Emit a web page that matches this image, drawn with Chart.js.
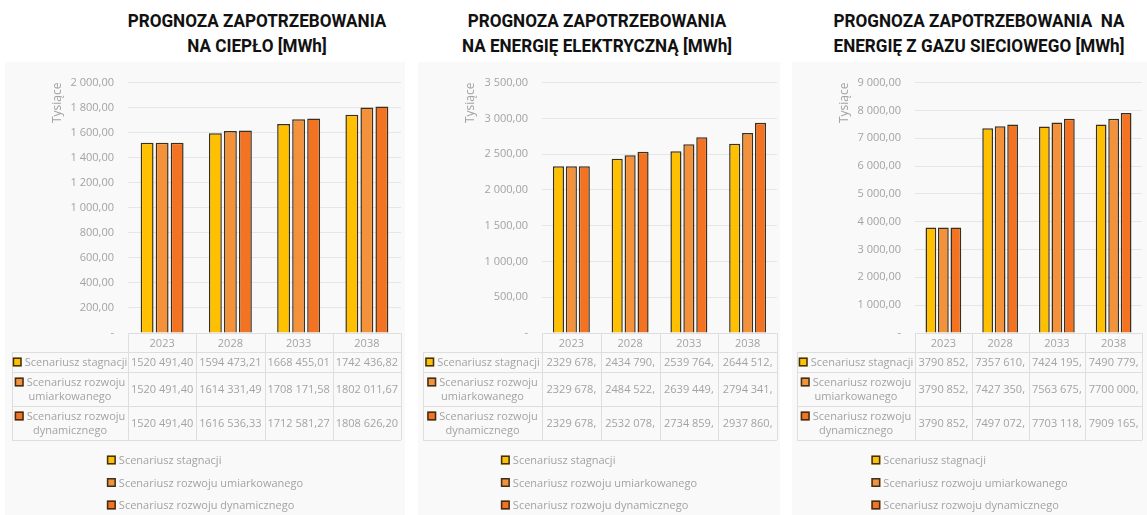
<!DOCTYPE html>
<html lang="pl">
<head>
<meta charset="UTF-8">
<title>Prognoza zapotrzebowania</title>
<script src="https://cdn.jsdelivr.net/npm/chart.js"></script>
<style>
  body { margin: 0; width: 1147px; height: 515px; overflow: hidden; background: #fff; position: relative; font-family: "Open Sans", sans-serif; }
  .title { position: absolute; top: 8px; width: 400px; text-align: center; color: #111;
           font-family: Roboto, "DejaVu Sans", sans-serif; font-weight: 700; font-size: 19px; line-height: 25px;
           white-space: nowrap; transform: scaleX(0.9); transform-origin: 50% 0; }
  .panel { position: absolute; top: 62px; height: 453px; background: #f9f9f9; }
  .panel canvas { display: block; }
</style>
</head>
<body>
  <div class="title" style="left:57px">PROGNOZA ZAPOTRZEBOWANIA<br>NA CIEPŁO [MWh]</div>
  <div class="title" style="left:397px">PROGNOZA ZAPOTRZEBOWANIA<br>NA ENERGIĘ ELEKTRYCZNĄ [MWh]</div>
  <div class="title" style="left:779px">PROGNOZA ZAPOTRZEBOWANIA&nbsp; NA<br>ENERGIĘ Z GAZU SIECIOWEGO [MWh]</div>

  <div class="panel" style="left:5px;width:400px"><canvas id="heat" width="400" height="453"></canvas></div>
  <div class="panel" style="left:418px;width:362px"><canvas id="power" width="362" height="453"></canvas></div>
  <div class="panel" style="left:792px;width:355px"><canvas id="gas" width="355" height="453"></canvas></div>

<script>
const years = ["2023", "2028", "2033", "2038"];
const scenarios = ["Scenariusz stagnacji", "Scenariusz rozwoju umiarkowanego", "Scenariusz rozwoju dynamicznego"];
const rowLabels = [["Scenariusz stagnacji"], ["Scenariusz rozwoju", "umiarkowanego"], ["Scenariusz rozwoju", "dynamicznego"]];
const colors = ["#FFC000", "#F4923C", "#F37322"];

// values in MWh
const heatStagnation = [1520491.40, 1594473.21, 1668455.01, 1742436.82];
const heatModerate = [1520491.40, 1614331.49, 1708171.58, 1802011.67];
const heatDynamic = [1520491.40, 1616536.33, 1712581.27, 1808626.20];

const powerStagnation = [2329678, 2434790, 2539764, 2644512];
const powerModerate = [2329678, 2484522, 2639449, 2794341];
const powerDynamic = [2329678, 2532078, 2734859, 2937860];

const gasStagnation = [3790852, 7357610, 7424195, 7490779];
const gasModerate = [3790852, 7427350, 7563675, 7700000];
const gasDynamic = [3790852, 7497072, 7703118, 7909165];

const textGray = "#a3a3a3";
const lineGray = "#dedede";
const font = "Open Sans";

function fmtTick(v) {
  if (v === 0) return "-";
  const t = Math.floor(v / 1000), r = v % 1000;
  return (t ? t + " " + String(r).padStart(3, "0") : String(r)) + ",00";
}

function fmtCell(v, decimals) {
  const whole = Math.floor(v);
  let s = Math.floor(whole / 1000) + " " + String(whole % 1000).padStart(3, "0") + ",";
  if (decimals) s += String(Math.round((v - whole) * 100)).padStart(2, "0");
  return s;
}

function marker(ctx, x, y, color) {
  ctx.fillStyle = color;
  ctx.fillRect(x, y - 4.5, 9, 9);
  ctx.strokeStyle = "#3a3020";
  ctx.lineWidth = 1.5;
  ctx.strokeRect(x + 0.75, y - 3.75, 7.5, 7.5);
}

// data table + legend drawn under the plot
const tablePlugin = {
  id: "dataTable",
  afterDraw(chart, args, opts) {
    const ctx = chart.ctx, xs = chart.scales.x, area = chart.chartArea;
    const step = (area.right - area.left) / years.length;
    const rows = [0, 19, 39, 73, 107].map(d => area.bottom + d);
    const left = opts.tableLeft;
    ctx.save();
    ctx.strokeStyle = lineGray;
    ctx.lineWidth = 1;
    ctx.beginPath();
    ctx.moveTo(area.left, rows[0] + 0.5); ctx.lineTo(area.right, rows[0] + 0.5);
    for (let i = 1; i < rows.length; i++) {
      ctx.moveTo(left, rows[i] + 0.5); ctx.lineTo(area.right, rows[i] + 0.5);
    }
    ctx.moveTo(left + 0.5, rows[1]); ctx.lineTo(left + 0.5, rows[4]);
    for (let k = 0; k <= years.length; k++) {
      const x = Math.round(area.left + k * step) + 0.5;
      ctx.moveTo(x, rows[0]); ctx.lineTo(x, rows[4]);
    }
    ctx.stroke();

    ctx.font = "11px '" + font + "'";
    ctx.fillStyle = textGray;
    ctx.textBaseline = "middle";
    ctx.textAlign = "center";
    years.forEach((y, i) => ctx.fillText(y, xs.getPixelForValue(i), (rows[0] + rows[1]) / 2 + 1));

    const cx = (left + area.left) / 2;
    chart.data.datasets.forEach((ds, d) => {
      const mid = (rows[d + 1] + rows[d + 2]) / 2 + 1;
      const lines = rowLabels[d];
      const y0 = lines.length > 1 ? mid - 7 : mid;
      const w = ctx.measureText(lines[0]).width + 12;
      const sx = cx - w / 2;
      marker(ctx, sx, y0 - 1, ds.backgroundColor);
      ctx.fillStyle = textGray;
      ctx.textAlign = "left";
      ctx.fillText(lines[0], sx + 12, y0);
      ctx.textAlign = "center";
      if (lines[1]) ctx.fillText(lines[1], cx, mid + 7);
      opts.raw[d].forEach((v, i) => ctx.fillText(fmtCell(v, opts.decimals), xs.getPixelForValue(i), mid));
    });

    // legend
    const widths = scenarios.map(s => ctx.measureText(s).width + 12);
    const lx = (chart.width - Math.max(...widths)) / 2;
    scenarios.forEach((s, d) => {
      const y = area.bottom + 128 + d * 22.5;
      marker(ctx, lx, y - 1, colors[d]);
      ctx.fillStyle = textGray;
      ctx.textAlign = "left";
      ctx.fillText(s, lx + 12, y);
    });
    ctx.restore();
  }
};

function makeChart(id, raw, p) {
  const canvas = document.getElementById(id);
  return new Chart(canvas, {
    type: "bar",
    data: {
      labels: years,
      datasets: raw.map((vals, d) => ({
        label: scenarios[d],
        data: vals.map(v => v / 1000),
        backgroundColor: colors[d],
        borderColor: "#3a3020",
        borderWidth: 1.5,
        categoryPercentage: 0.66,
        barPercentage: 0.86
      }))
    },
    options: {
      responsive: false,
      animation: false,
      layout: { padding: { left: 0, top: p.top, right: p.right, bottom: 182 } },
      plugins: {
        legend: { display: false },
        tooltip: { enabled: false },
        dataTable: { tableLeft: p.tableLeft, raw: raw, decimals: p.decimals }
      },
      scales: {
        x: { display: false },
        y: {
          min: 0, max: p.max,
          afterFit: s => { s.width = p.axisWidth; },
          ticks: { stepSize: p.step, callback: fmtTick, color: textGray, padding: 14, font: { family: font, size: 11 } },
          grid: { color: "#e6e6e6", drawTicks: false },
          border: { display: false },
          title: { display: true, text: "Tysiące", align: "end", color: textGray,
                   font: { family: font, size: 12 }, padding: { top: 45, bottom: 0 } }
        }
      }
    },
    plugins: [tablePlugin]
  });
}

makeChart("heat", [heatStagnation, heatModerate, heatDynamic],
  { axisWidth: 123, right: 4, top: 14, tableLeft: 7, max: 2000, step: 200, decimals: true });
makeChart("power", [powerStagnation, powerModerate, powerDynamic],
  { axisWidth: 124, right: 3, top: 11, tableLeft: 5, max: 3500, step: 500, decimals: false });
makeChart("gas", [gasStagnation, gasModerate, gasDynamic],
  { axisWidth: 123, right: 5, top: 9, tableLeft: 5, max: 9000, step: 1000, decimals: false });
</script>
</body>
</html>
